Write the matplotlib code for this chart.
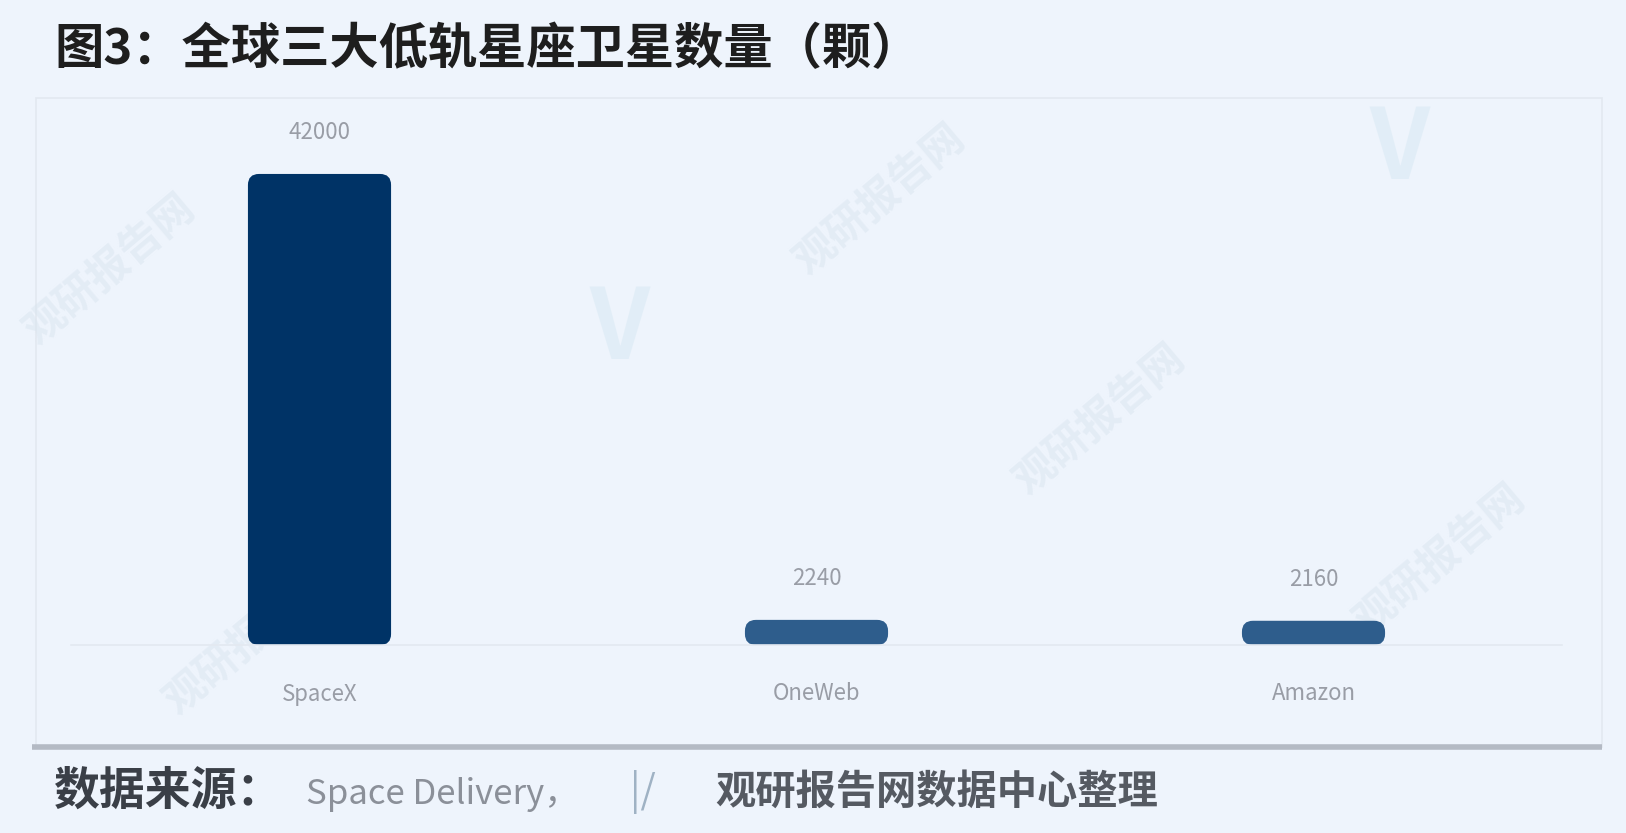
import numpy as np
import matplotlib
matplotlib.use("Agg")
from matplotlib import pyplot as plt
from matplotlib.patches import FancyBboxPatch, Rectangle

plt.rcParams['font.family'] = ['Noto Sans CJK SC', 'DejaVu Sans']

# data (text is estimated)
categories = ['SpaceX', 'OneWeb', 'Amazon']
values = [42000, 2240, 2160]
value_labels = ['42000', '2240', '2160']
title = '图3：全球三大低轨星座卫星数量（颗）'
source_head = '数据来源：'
source_mid = 'Space Delivery，'
source_tail = '观研报告网数据中心整理'

bg = '#eef4fc'
bar_colours = ['#003366', '#2e5d8c', '#2e5d8c']

W, H = 1626, 833
fig = plt.figure(figsize=(W / 100, H / 100), dpi=100, facecolor=bg)

# background layer in pixel coords
bgax = fig.add_axes([0, 0, 1, 1], zorder=0)
bgax.set_xlim(0, W)
bgax.set_ylim(H, 0)
bgax.axis('off')
bgax.add_patch(Rectangle((36, 98), 1566, 649, fill=False, ec='#e2e8f0', lw=1.2))
bgax.plot([32, 1602], [747, 747], color='#b4bac4', lw=4, solid_capstyle='butt')

# faint watermarks
wm = dict(color='#d9e4ef', fontsize=30, rotation=40, ha='center', va='center',
          alpha=0.5, fontweight='bold')
for (x, y) in [(110, 270), (880, 200), (1100, 420), (1440, 560), (250, 640)]:
    bgax.text(x, y, '观研报告网', **wm)
for (x, y) in [(620, 330), (1400, 150)]:
    bgax.text(x, y, 'V', color='#d8e9f4', fontsize=70, ha='center', va='center',
              alpha=0.55, fontweight='bold')

# title and source
bgax.text(54, 50, title, fontsize=35.5, fontweight='bold', color='#1e1e1e',
          ha='left', va='center')
bgax.text(54, 792, source_head, fontsize=33, fontweight='bold', color='#3a3f47',
          ha='left', va='center')
bgax.text(306, 794, source_mid, fontsize=25, color='#8b9099',
          ha='left', va='center')
bgax.text(630, 792, '|/', fontsize=28, color='#9fb2c4', ha='left', va='center')
bgax.text(715, 792, source_tail, fontsize=29, fontweight='bold', color='#555a62',
          ha='left', va='center')

# bar axes
left_px, right_px = 71, 1562
bottom_px, top_px = 645, 100
ax = fig.add_axes([left_px / W, (H - bottom_px) / H,
                   (right_px - left_px) / W, (bottom_px - top_px) / H], zorder=1)
ax.set_facecolor('none')
x = np.arange(len(categories))
ymax = max(values) * 1.157
ax.set_xlim(-0.5, len(categories) - 0.5)
ax.set_ylim(0, ymax)

bw = 0.288
bars = ax.bar(x, values, width=bw, color=bar_colours)
# rounded corners
px_x = (right_px - left_px) / len(categories)   # px per x unit
px_y = (bottom_px - top_px) / ymax              # px per y unit
aspect = (1 / px_y) / (1 / px_x)
r = 11 / px_x
for i, (b, c) in enumerate(zip(bars, bar_colours)):
    b.set_visible(False)
    h = b.get_height()
    rr = min(r, h / aspect / 2)
    ax.add_patch(FancyBboxPatch((b.get_x(), 0), b.get_width(), h,
                                boxstyle=f'round,pad=0,rounding_size={rr}',
                                mutation_aspect=aspect, fc=c, ec='none'))
    ax.annotate(value_labels[i],
                (b.get_x() + b.get_width() / 2, h), xytext=(0, 30),
                textcoords='offset points', ha='center', va='center',
                fontsize=16, color='#999da6')

ax.set_xticks(x)
ax.set_xticklabels(categories, fontsize=16, color='#999da6')
ax.tick_params(axis='x', length=0, pad=27)
ax.set_yticks([])
for s in ['top', 'right', 'left']:
    ax.spines[s].set_visible(False)
ax.spines['bottom'].set_color('#e3e9f1')
ax.spines['bottom'].set_linewidth(1.2)

fig.savefig('out.png', dpi=100, facecolor=bg)
